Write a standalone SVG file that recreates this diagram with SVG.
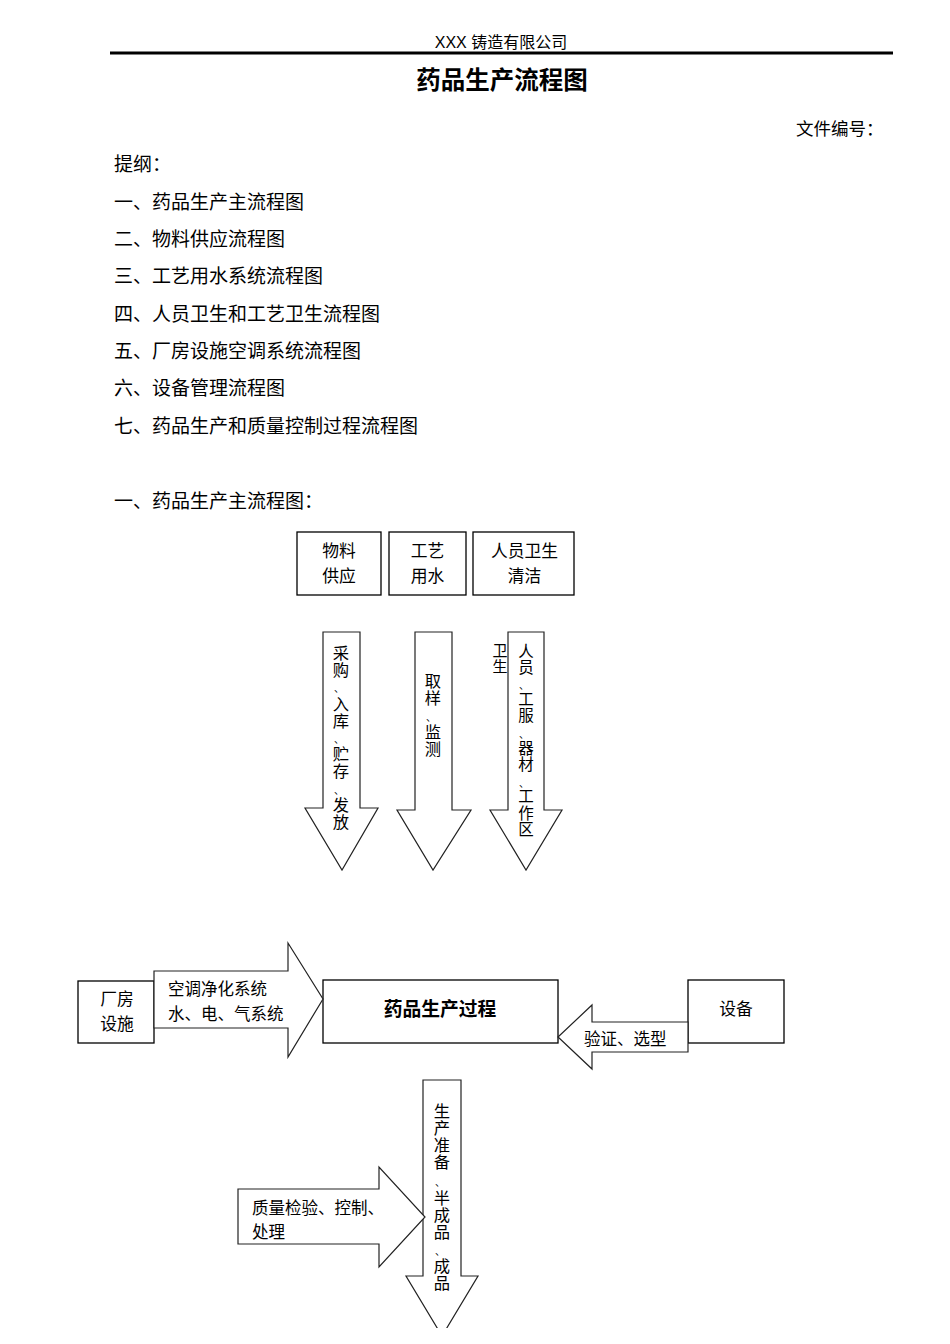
<svg xmlns="http://www.w3.org/2000/svg" width="950" height="1344" viewBox="0 0 950 1344">
<style>
.t{font-family:"Liberation Serif","Noto Sans CJK SC",serif;fill:#000;}
.o{font-size:19px;}
.b{fill:#fff;stroke:#000;stroke-width:1.3;}
.a{fill:#fff;stroke:#222;stroke-width:1.2;stroke-linejoin:miter;}
.l{font-size:16.8px;text-anchor:middle;}
.v{font-size:16.3px;text-anchor:middle;}
.c{font-size:10px;}
</style>
<defs>
<clipPath id="page"><rect x="0" y="0" width="950" height="1328"/></clipPath>
</defs>
<rect width="950" height="1344" fill="#fff"/>
<g id="header">
<text class="t" x="501" y="48" text-anchor="middle" font-size="16" style="font-family:'Liberation Sans','Noto Sans CJK SC',sans-serif">XXX 铸造有限公司</text>
<line x1="110" y1="53" x2="893" y2="53" stroke="#000" stroke-width="3"/>
<text class="t" x="502" y="89" text-anchor="middle" font-size="24.5" font-weight="bold" style="font-family:'Liberation Sans','Noto Sans CJK SC',sans-serif">药品生产流程图</text>
<text class="t" x="796" y="135" font-size="17.5">文件编号：</text>
</g>
<g id="outline">
<text class="t o" x="114" y="171">提纲：</text>
<text class="t o" x="114" y="209">一、药品生产主流程图</text>
<text class="t o" x="114" y="246">二、物料供应流程图</text>
<text class="t o" x="114" y="283">三、工艺用水系统流程图</text>
<text class="t o" x="114" y="321">四、人员卫生和工艺卫生流程图</text>
<text class="t o" x="114" y="358">五、厂房设施空调系统流程图</text>
<text class="t o" x="114" y="395">六、设备管理流程图</text>
<text class="t o" x="114" y="433">七、药品生产和质量控制过程流程图</text>
<text class="t o" x="114" y="508">一、药品生产主流程图：</text>
</g>
<g id="n-wuliao">
<rect class="b" x="297" y="532" width="84" height="63"/>
<text class="t l" x="339" y="557">物料</text>
<text class="t l" x="339" y="582">供应</text>
</g>
<g id="n-gongyi">
<rect class="b" x="389" y="532" width="77" height="63"/>
<text class="t l" x="427.5" y="557">工艺</text>
<text class="t l" x="427.5" y="582">用水</text>
</g>
<g id="n-renyuan">
<rect class="b" x="473" y="532" width="101" height="63"/>
<text class="t l" x="524.5" y="557">人员卫生</text>
<text class="t l" x="524.5" y="582">清洁</text>
</g>
<g id="n-changfang">
<rect class="b" x="78" y="981" width="76" height="62"/>
<text class="t l" x="117" y="1005">厂房</text>
<text class="t l" x="117" y="1030">设施</text>
</g>
<g id="n-process">
<rect class="b" x="323" y="980" width="235" height="63"/>
<text class="t" x="440" y="1016" text-anchor="middle" font-size="18.8" font-weight="bold" style="font-family:'Liberation Sans','Noto Sans CJK SC',sans-serif">药品生产过程</text>
</g>
<g id="n-shebei">
<rect class="b" x="688" y="980" width="96" height="63"/>
<text class="t l" x="736" y="1015">设备</text>
</g>
<g id="connectors">
<g id="c-wuliao">
<polygon class="a" points="323,632 360,632 360,808 378,808 342,870 305,808 323,808"/>
<text class="t v" x="341"><tspan x="341" y="659">采</tspan><tspan x="341" y="676">购</tspan><tspan class="c" x="339" y="692">、</tspan><tspan x="341" y="710">入</tspan><tspan x="341" y="727">库</tspan><tspan class="c" x="339" y="743">、</tspan><tspan x="341" y="760">贮</tspan><tspan x="341" y="777">存</tspan><tspan class="c" x="339" y="794">、</tspan><tspan x="341" y="811">发</tspan><tspan x="341" y="828">放</tspan></text>
</g>
<g id="c-gongyi">
<polygon class="a" points="415,632 452,632 452,810 471,810 433,870 397,810 415,810"/>
<text class="t v" x="433"><tspan x="433" y="687">取</tspan><tspan x="433" y="704">样</tspan><tspan class="c" x="431" y="721">、</tspan><tspan x="433" y="738">监</tspan><tspan x="433" y="755">测</tspan></text>
</g>
<g id="c-renyuan">
<polygon class="a" points="508,632 544,632 544,810 562,810 526,870 490,810 508,810"/>
<text class="t v" x="500" style="font-size:15px"><tspan x="500" y="656">卫</tspan><tspan x="500" y="672">生</tspan></text>
<text class="t v" x="526" style="font-size:15.5px"><tspan x="526" y="656.5">人</tspan><tspan x="526" y="672.7">员</tspan><tspan class="c" x="524" y="689">、</tspan><tspan x="526" y="705.1">工</tspan><tspan x="526" y="721.3">服</tspan><tspan class="c" x="524" y="738">、</tspan><tspan x="526" y="753.7">器</tspan><tspan x="526" y="769.9">材</tspan><tspan class="c" x="524" y="786.5">、</tspan><tspan x="526" y="802.3">工</tspan><tspan x="526" y="818.5">作</tspan><tspan x="526" y="834.7">区</tspan></text>
</g>
<g id="c-changfang">
<polygon class="a" points="154,971 288,971 288,943 323,999 288,1057 288,1028 154,1028"/>
<text class="t" x="168" y="995" font-size="16.5">空调净化系统</text>
<text class="t" x="168" y="1020" font-size="16.5">水、电、气系统</text>
</g>
<g id="c-shebei">
<polygon class="a" points="688,1022 592,1022 592,1005 558,1037 592,1069 592,1052 688,1052"/>
<text class="t" x="584" y="1045" font-size="16.5">验证、选型</text>
</g>
<g id="c-output" clip-path="url(#page)">
<polygon class="a" points="423,1080 461,1080 461,1276 478,1276 442,1336 406,1276 423,1276"/>
<text class="t v" x="442"><tspan x="442" y="1117">生</tspan><tspan x="442" y="1134">产</tspan><tspan x="442" y="1151">准</tspan><tspan x="442" y="1168">备</tspan><tspan class="c" x="440" y="1186">、</tspan><tspan x="442" y="1204">半</tspan><tspan x="442" y="1221">成</tspan><tspan x="442" y="1238">品</tspan><tspan class="c" x="440" y="1255">、</tspan><tspan x="442" y="1272">成</tspan><tspan x="442" y="1289">品</tspan></text>
</g>
<g id="c-quality">
<polygon class="a" points="238,1189 379,1189 379,1167 425,1217 379,1267 379,1244 238,1244"/>
<text class="t" x="252" y="1214" font-size="16.5">质量检验、控制、</text>
<text class="t" x="252" y="1238" font-size="16.5">处理</text>
</g>
</g>
</svg>
